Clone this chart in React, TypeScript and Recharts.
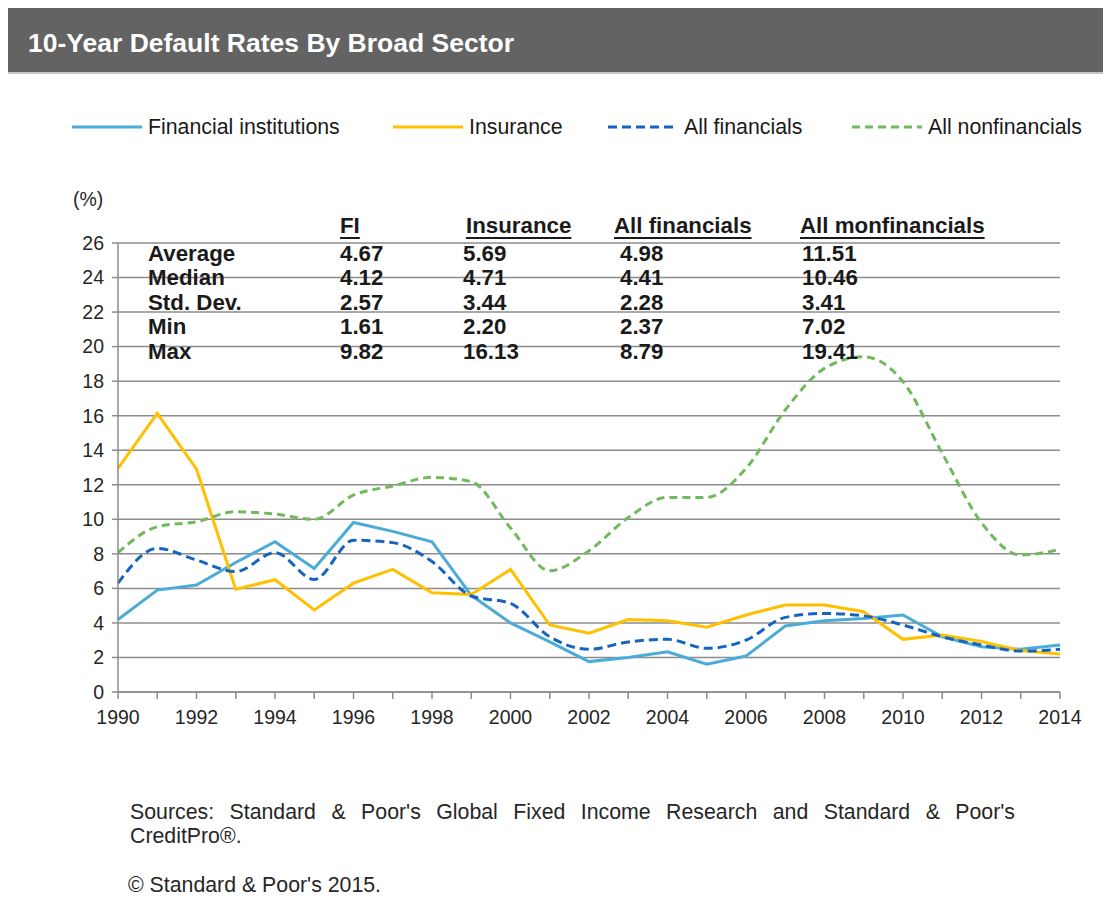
import React from 'react';
import { LineChart, Line, XAxis, YAxis, CartesianGrid } from 'recharts';

// 10-year default rates, 1990-2014 (%)
const years = [
  1990, 1991, 1992, 1993, 1994, 1995, 1996, 1997, 1998, 1999, 2000, 2001, 2002,
  2003, 2004, 2005, 2006, 2007, 2008, 2009, 2010, 2011, 2012, 2013, 2014,
];
const financialInstitutions = [
  4.2, 5.9, 6.2, 7.5, 8.7, 7.15, 9.82, 9.3, 8.7, 5.6, 4.0, 2.9, 1.76, 2.0, 2.33,
  1.61, 2.08, 3.82, 4.12, 4.25, 4.46, 3.2, 2.62, 2.47, 2.72,
];
const insurance = [
  12.95, 16.13, 12.9, 5.95, 6.5, 4.75, 6.3, 7.1, 5.75, 5.65, 7.1, 3.88, 3.4, 4.2,
  4.13, 3.75, 4.46, 5.04, 5.04, 4.65, 3.05, 3.3, 2.92, 2.4, 2.2,
];
const allFinancials = [
  6.3, 8.32, 7.64, 6.97, 8.07, 6.52, 8.79, 8.65, 7.55, 5.56, 5.13, 3.2, 2.47, 2.9,
  3.05, 2.53, 3.0, 4.32, 4.55, 4.41, 3.88, 3.2, 2.72, 2.37, 2.47,
];
const allNonfinancials = [
  8.07, 9.57, 9.86, 10.44, 10.3, 10.0, 11.4, 11.93, 12.43, 12.18, 9.5, 7.02, 8.18,
  10.1, 11.27, 11.27, 12.95, 16.33, 18.74, 19.41, 17.97, 13.82, 9.8, 7.93, 8.26,
];
const yTicks = [0, 2, 4, 6, 8, 10, 12, 14, 16, 18, 20, 22, 24, 26];

// summary table printed inside the plot
const statHeaders = ['FI', 'Insurance', 'All financials', 'All monfinancials'];
const statLabels = ['Average', 'Median', 'Std. Dev.', 'Min', 'Max'];
const statFI = ['4.67', '4.12', '2.57', '1.61', '9.82'];
const statInsurance = ['5.69', '4.71', '3.44', '2.20', '16.13'];
const statAllFin = ['4.98', '4.41', '2.28', '2.37', '8.79'];
const statNonFin = ['11.51', '10.46', '3.41', '7.02', '19.41'];

const data = years.map((year, i) => ({
  year,
  fi: financialInstitutions[i],
  ins: insurance[i],
  allFin: allFinancials[i],
  nonFin: allNonfinancials[i],
}));

const FONT = '"Liberation Sans", Arial, sans-serif';
const C_FI = '#4bacd8';
const C_INS = '#ffc000';
const C_ALLFIN = '#1565c0';
const C_NONFIN = '#72b95e';
const GRID = '#8c8c8c';

const legendItems = [
  { label: 'Financial institutions', color: C_FI, dash: undefined, x: 64 },
  { label: 'Insurance', color: C_INS, dash: undefined, x: 385 },
  { label: 'All financials', color: C_ALLFIN, dash: '9 5', x: 600 },
  { label: 'All nonfinancials', color: C_NONFIN, dash: '8 5', x: 844 },
];

const XTick = (props: any) => {
  const { x, y, payload } = props;
  if (payload.value % 2 !== 0) return <g />;
  return (
    <text x={x} y={y + 16} dy="0.35em" textAnchor="middle" fontSize={19.5} fontFamily={FONT} fill="#262626">
      {payload.value}
    </text>
  );
};

const YTick = (props: any) => {
  const { x, y, payload } = props;
  return (
    <text x={x} y={y} dy="0.35em" textAnchor="end" fontSize={19.5} fontFamily={FONT} fill="#262626">
      {payload.value}
    </text>
  );
};

const colX = [332, 458, 606, 792];
const valX = [332, 455, 612, 794];

export default function App() {
  return (
    <div style={{ position: 'relative', width: 1103, height: 912, fontFamily: FONT, background: '#fff' }}>
      {/* title bar */}
      <div
        style={{
          position: 'absolute', left: 0, top: 0, width: 1103, height: 66, background: '#636363',
          borderBottom: '2px solid #c8c8c8', boxSizing: 'border-box',
        }}
      >
        <div style={{ position: 'absolute', left: 20, top: 20, color: '#fff', fontWeight: 'bold', fontSize: 26.5, lineHeight: '30px' }}>
          10-Year Default Rates By Broad Sector
        </div>
      </div>
      <div style={{ position: 'absolute', left: -1, top: 66, width: 1, height: 846, background: '#a6a6a6' }} />

      {/* legend */}
      {legendItems.map((it) => (
        <div key={it.label} style={{ position: 'absolute', left: it.x, top: 107, height: 24, display: 'flex', alignItems: 'center' }}>
          <svg width={72} height={24}>
            <line x1={0} y1={12} x2={70} y2={12} stroke={it.color} strokeWidth={3} strokeDasharray={it.dash} />
          </svg>
          <span style={{ fontSize: 21.3, color: '#1a1a1a', marginLeft: 4, lineHeight: '24px' }}>{it.label}</span>
        </div>
      ))}

      <div style={{ position: 'absolute', left: 65, top: 180, fontSize: 19.5, color: '#262626', lineHeight: '22px' }}>(%)</div>

      <div style={{ position: 'absolute', left: 0, top: 0 }}>
        <LineChart width={1103} height={760} data={data} margin={{ top: 235, right: 51, bottom: 46, left: 50 }}>
          <CartesianGrid vertical={false} stroke={GRID} strokeWidth={1.5} />
          <XAxis
            dataKey="year"
            type="number"
            domain={[1990, 2014]}
            ticks={years}
            interval={0}
            height={30}
            tickSize={7}
            stroke={GRID}
            strokeWidth={1.5}
            tick={<XTick />}
          />
          <YAxis
            domain={[0, 26]}
            ticks={yTicks}
            interval={0}
            width={60}
            tickSize={6}
            tickMargin={8}
            stroke={GRID}
            strokeWidth={1.5}
            tick={<YTick />}
          />
          <Line type="linear" dataKey="fi" stroke={C_FI} strokeWidth={3} dot={false} isAnimationActive={false} />
          <Line type="linear" dataKey="ins" stroke={C_INS} strokeWidth={3} dot={false} isAnimationActive={false} />
          <Line type="monotone" dataKey="allFin" stroke={C_ALLFIN} strokeWidth={3} strokeDasharray="9 5" dot={false} isAnimationActive={false} />
          <Line type="monotone" dataKey="nonFin" stroke={C_NONFIN} strokeWidth={3} strokeDasharray="8 5" dot={false} isAnimationActive={false} />
        </LineChart>
      </div>

      {/* stats table */}
      {statHeaders.map((h, i) => (
        <div
          key={h}
          style={{
            position: 'absolute', left: colX[i], top: 206, fontSize: 22.3, fontWeight: 'bold', color: '#1a1a1a',
            lineHeight: '24px', textDecoration: 'underline', textDecorationThickness: 2, textUnderlineOffset: 4, whiteSpace: 'nowrap',
          }}
        >
          {h}
        </div>
      ))}
      {statLabels.map((label, r) => {
        const top = 234 + r * 24.4;
        const cells = [statFI[r], statInsurance[r], statAllFin[r], statNonFin[r]];
        return (
          <React.Fragment key={label}>
            <div style={{ position: 'absolute', left: 140, top, fontSize: 22.3, fontWeight: 'bold', color: '#1a1a1a', lineHeight: '24px' }}>{label}</div>
            {cells.map((v, c) => (
              <div key={c} style={{ position: 'absolute', left: valX[c], top, fontSize: 22.3, fontWeight: 'bold', color: '#1a1a1a', lineHeight: '24px' }}>{v}</div>
            ))}
          </React.Fragment>
        );
      })}

      {/* footnotes */}
      <div style={{ position: 'absolute', left: 122, top: 792, width: 885, fontSize: 21.3, lineHeight: '24px', color: '#262626', textAlign: 'justify' }}>
        Sources: Standard &amp; Poor's Global Fixed Income Research and Standard &amp; Poor's CreditPro®.
      </div>
      <div style={{ position: 'absolute', left: 120, top: 865, fontSize: 21.3, lineHeight: '24px', color: '#262626' }}>
        © Standard &amp; Poor's 2015.
      </div>
    </div>
  );
}
